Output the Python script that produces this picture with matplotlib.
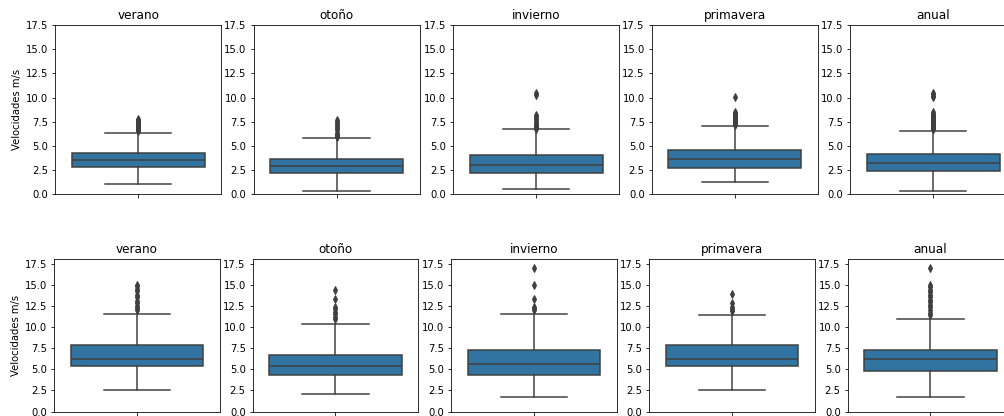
import matplotlib
matplotlib.use("Agg")
import matplotlib.pyplot as plt

W, H, DPI = 1004, 416, 72

seasons = ["verano", "otoño", "invierno", "primavera", "anual"]
ylabel = "Velocidades m/s"

# Top row statistics (m/s)
top_q1 = [2.78, 2.18, 2.25, 2.77, 2.46]
top_med = [3.50, 2.89, 3.06, 3.63, 3.25]
top_q3 = [4.22, 3.66, 4.08, 4.53, 4.15]
top_wlo = [1.07, 0.39, 0.55, 1.25, 0.38]
top_whi = [6.30, 5.85, 6.75, 7.09, 6.57]
top_fliers = [
    [6.5, 6.6, 6.7, 6.8, 6.9, 7.0, 7.1, 7.2, 7.3, 7.4, 7.5, 7.6, 7.7, 7.8],
    [5.9, 6.0, 6.1, 6.2, 6.3, 6.6, 6.9, 7.1, 7.3, 7.5, 7.7],
    [6.8, 6.9, 7.0, 7.1, 7.2, 7.4, 7.6, 7.8, 8.0, 8.2, 10.3, 10.5],
    [7.2, 7.3, 7.4, 7.5, 7.6, 7.7, 7.8, 7.9, 8.0, 8.1, 8.2, 8.3, 8.4, 8.5, 10.1],
    [6.7, 6.8, 6.9, 7.0, 7.1, 7.2, 7.3, 7.4, 7.5, 7.6, 7.7, 7.8, 7.9, 8.0,
     8.1, 8.2, 8.3, 8.5, 10.1, 10.2, 10.4, 10.5],
]

# Bottom row statistics (m/s)
bot_q1 = [5.37, 4.26, 4.26, 5.36, 4.81]
bot_med = [6.17, 5.40, 5.60, 6.19, 6.15]
bot_q3 = [7.84, 6.74, 7.29, 7.84, 7.29]
bot_wlo = [2.55, 2.09, 1.77, 2.60, 1.77]
bot_whi = [11.50, 10.37, 11.51, 11.47, 10.92]
bot_fliers = [
    [12.0, 12.2, 12.5, 12.8, 13.1, 13.5, 13.8, 14.2, 14.5, 14.8, 15.0],
    [10.9, 11.2, 11.5, 11.8, 12.1, 12.3, 13.3, 14.4],
    [12.0, 12.2, 12.4, 13.3, 15.0, 17.0],
    [11.9, 12.1, 12.3, 12.8, 13.9],
    [11.4, 11.7, 12.0, 12.3, 12.6, 12.9, 13.2, 13.5, 13.8, 14.1, 14.4,
     14.7, 15.0, 17.0],
]

yticks = [0.0, 2.5, 5.0, 7.5, 10.0, 12.5, 15.0, 17.5]

box_color = "#3274a1"
line_color = "#3f3f3f"

fig = plt.figure(figsize=(W / DPI, H / DPI), dpi=DPI)


def px_axes(left, top, width, height):
    return fig.add_axes([left / W, 1 - (top + height) / H, width / W, height / H])


rows = [
    dict(lefts=[55, 253.5, 453, 651.7, 850], width=166.3, top=25, bottom=194.3,
         ymax=17.5, q1=top_q1, med=top_med, q3=top_q3, wlo=top_wlo, whi=top_whi,
         fl=top_fliers),
    dict(lefts=[54.3, 252.7, 451, 649.3, 847.7], width=165.5, top=259.3, bottom=411.5,
         ymax=18.0, q1=bot_q1, med=bot_med, q3=bot_q3, wlo=bot_wlo, whi=bot_whi,
         fl=bot_fliers),
]

for r in rows:
    for i, name in enumerate(seasons):
        ax = px_axes(r["lefts"][i], r["top"], r["width"], r["bottom"] - r["top"])
        stats = [dict(med=r["med"][i], q1=r["q1"][i], q3=r["q3"][i],
                      whislo=r["wlo"][i], whishi=r["whi"][i], fliers=r["fl"][i])]
        ax.bxp(stats, positions=[0], widths=0.8, patch_artist=True,
               boxprops=dict(facecolor=box_color, edgecolor=line_color, linewidth=1.5),
               medianprops=dict(color=line_color, linewidth=1.5),
               whiskerprops=dict(color=line_color, linewidth=1.5),
               capprops=dict(color=line_color, linewidth=1.5),
               capwidths=0.4,
               flierprops=dict(marker="d", markersize=5, markerfacecolor=line_color,
                               markeredgecolor=line_color, linestyle="none"))
        ax.set_xlim(-0.5, 0.5)
        ax.set_ylim(0, r["ymax"])
        ax.set_yticks(yticks)
        ax.set_yticklabels([f"{v:.1f}" for v in yticks])
        ax.set_xticks([0])
        ax.set_xticklabels([""])
        ax.set_title(name, fontsize=12)
        if i == 0:
            ax.set_ylabel(ylabel)

fig.savefig("out.png", dpi=DPI)
